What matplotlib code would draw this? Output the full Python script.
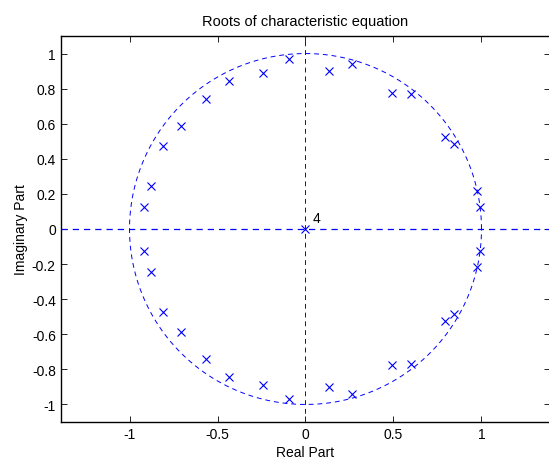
import numpy as np
import matplotlib.pyplot as plt

plt.rcParams['font.family'] = ['Liberation Sans', 'DejaVu Sans']
plt.rcParams['axes.unicode_minus'] = False

# roots (upper half plane), lower half are conjugates
root_re = [-0.915, -0.878, -0.808, -0.710, -0.567, -0.434, -0.241, -0.094,
           0.131, 0.267, 0.494, 0.601, 0.794, 0.846, 0.973, 0.989]
root_im = [0.123, 0.247, 0.472, 0.587, 0.741, 0.846, 0.890, 0.969,
           0.902, 0.942, 0.774, 0.769, 0.523, 0.483, 0.215, 0.124]
n_origin = 4  # multiple root at 0

xticks = [-1, -0.5, 0, 0.5, 1]
yticks = [-1, -0.8, -0.6, -0.4, -0.2, 0, 0.2, 0.4, 0.6, 0.8, 1]

re = np.array(root_re + root_re + [0.0])
im = np.array(root_im + [-v for v in root_im] + [0.0])

fig = plt.figure(figsize=(5.49, 4.60), dpi=100)
ax = fig.add_axes([60.7 / 549, 37 / 460, 489.6 / 549, 386 / 460])

blue = (0, 0, 1)
fs = 10

# unit circle
th = np.linspace(0, 2 * np.pi, 400)
ax.plot(np.cos(th), np.sin(th), color=blue, lw=0.7, dashes=(5, 4))

# axis lines
ax.axhline(0, color=blue, lw=0.9, dashes=(5, 4))
ax.axvline(0, color=blue, lw=0.7, dashes=(5, 4))

ax.plot(re, im, 'x', color=blue, ms=5.2, mew=0.8)
ax.text(0.04, 0.02, str(n_origin), fontsize=fs, ha='left', va='bottom')

ax.set_xlim(-1.391, 1.391)
ax.set_ylim(-1.1, 1.1)
ax.set_xticks(xticks)
ax.set_yticks(yticks)
ax.set_xticklabels(['-1', '-0.5', '0', '0.5', '1'])
ax.set_yticklabels(['-1', '-0.8', '-0.6', '-0.4', '-0.2', '0',
                    '0.2', '0.4', '0.6', '0.8', '1'])
ax.tick_params(direction='in', top=True, right=True, labelsize=fs,
               length=4, width=0.6)
for s in ax.spines.values():
    s.set_linewidth(1.0)

ax.set_title('Roots of characteristic equation', fontsize=fs + 0.5, pad=8)
ax.set_xlabel('Real Part', fontsize=fs, labelpad=3)
ax.set_ylabel('Imaginary Part', fontsize=fs, labelpad=3)

fig.savefig('out.png', dpi=100)
